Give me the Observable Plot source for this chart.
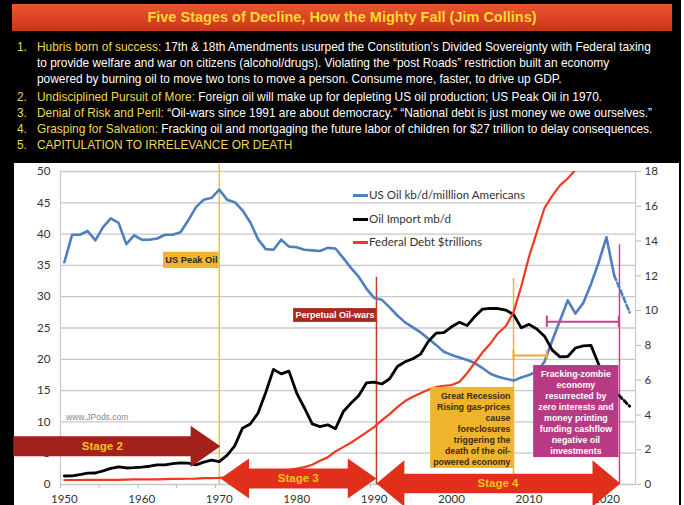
<!DOCTYPE html>
<html><head><meta charset="utf-8">
<script src="https://cdn.jsdelivr.net/npm/d3@7"></script>
<script src="https://cdn.jsdelivr.net/npm/@observablehq/plot@0.6"></script>
<style>
body{margin:0;width:684px;height:505px;overflow:hidden;background:#fff;position:relative;font-family:"Liberation Sans",Arial,sans-serif}
#panel{position:absolute;left:0;top:0;width:681px;height:505px;background:#000}
#banner{position:absolute;left:12px;top:4px;width:660px;height:27px;background:linear-gradient(#ea5531,#cc3418);color:#ffd92e;font-weight:bold;font-size:14.5px;text-align:center;line-height:27px}
.row{position:absolute;white-space:nowrap;font-size:11.9px;color:#fff;line-height:14px}
.yl{color:#efd757}
#chartbg{position:absolute;left:14px;top:163px;width:665px;height:342px;background:#fff}
#chart{position:absolute;left:0;top:163px}
.leg{position:absolute;font-family:Lato,sans-serif;font-size:11.6px;color:#333;white-space:nowrap;line-height:14px}
.leg i{position:absolute;left:-16px;top:6px;width:15px;height:3px}
</style></head>
<body>
<div id="panel"></div>
<div id="banner">Five Stages of Decline, How the Mighty Fall (Jim Collins)</div>
<div id="list"></div>
<div id="chartbg"></div>
<div id="chart"></div>
<div id="legend"></div>
<script>
// ---------- header text ----------
const listNums = ["1.", "2.", "3.", "4.", "5."];
const listHeads = ["Hubris born of success:", "Undisciplined Pursuit of More:", "Denial of Risk and Peril:", "Grasping for Salvation:", "CAPITULATION TO IRRELEVANCE OR DEATH"];
const listBodies = [
  [" 17th & 18th Amendments usurped the Constitution\u2019s Divided Sovereignty with Federal taxing",
   "to provide welfare and war on citizens (alcohol/drugs). Violating the \u201cpost Roads\u201d restriction built an economy",
   "powered by burning oil to move two tons to move a person. Consume more, faster, to drive up GDP."],
  [" Foreign oil will make up for depleting US oil production; US Peak Oil in 1970."],
  [" \u201cOil-wars since 1991 are about democracy.\u201d \u201cNational debt is just money we owe ourselves.\u201d"],
  [" Fracking oil and mortgaging the future labor of children for $27 trillion to delay consequences."],
  [""]
];
const rowTops = [[40, 55.5, 72], [90], [106], [122], [138]];
const list = document.getElementById("list");
listNums.forEach((n, i) => {
  listBodies[i].forEach((line, j) => {
    const r = document.createElement("div");
    r.className = "row";
    r.style.top = rowTops[i][j] + "px";
    if (j === 0) {
      r.style.left = "17px";
      r.innerHTML = `<span class="yl">${n}</span><span style="position:absolute;left:20px"><span class="yl">${listHeads[i]}</span>${line.replace(/&/g,"&amp;")}</span>`;
    } else {
      r.style.left = "37px";
      r.textContent = line;
    }
    list.appendChild(r);
  });
});

// ---------- data ----------
const years = [1950,1951,1952,1953,1954,1955,1956,1957,1958,1959,1960,1961,1962,1963,1964,1965,1966,1967,1968,1969,
  1970,1971,1972,1973,1974,1975,1976,1977,1978,1979,1980,1981,1982,1983,1984,1985,1986,1987,1988,1989,
  1990,1991,1992,1993,1994,1995,1996,1997,1998,1999,2000,2001,2002,2003,2004,2005,2006,2007,2008,2009,
  2010,2011,2012,2013,2014,2015,2016,2017,2018,2019,2020,2021];
// US oil kb/d per million Americans (left axis)
const usOil = [35.5,39.9,39.9,40.5,39.0,41.1,42.5,41.8,38.4,39.8,39.1,39.1,39.3,39.9,39.9,40.3,42.2,44.3,45.5,45.8,
  47.1,45.5,45.1,43.8,41.9,39.2,37.6,37.5,39.1,38.0,37.9,37.5,37.4,37.3,37.8,37.7,36.2,34.6,33.2,31.3,
  29.8,29.5,28.3,27.0,25.9,25.1,24.3,23.3,22.3,21.2,20.7,20.3,19.9,19.4,18.6,17.7,17.2,16.9,16.6,17.1,
  17.5,18.0,19.6,23.0,26.2,29.4,27.3,29.0,32.0,35.5,39.5,33.4];
// Oil import mb/d (right axis)
const oilImport = [0.49,0.50,0.57,0.65,0.66,0.78,0.93,1.02,0.95,0.97,1.00,1.05,1.13,1.13,1.20,1.24,1.23,1.13,1.29,1.40,
  1.32,1.68,2.22,3.24,3.48,4.10,5.29,6.62,6.36,6.52,5.26,4.40,3.49,3.33,3.43,3.20,4.18,4.67,5.10,5.84,
  5.89,5.78,6.08,6.79,7.06,7.23,7.50,8.23,8.70,8.73,9.07,9.33,9.14,9.66,10.09,10.13,10.12,10.03,9.78,9.01,
  9.21,8.94,8.53,7.73,7.34,7.36,7.85,7.97,8.00,6.90,5.90,5.40];
// Federal debt $ trillions (right axis), 1950-2016
const debt = [0.26,0.26,0.26,0.27,0.27,0.27,0.27,0.27,0.28,0.29,0.29,0.29,0.30,0.31,0.32,0.32,0.33,0.34,0.37,0.37,
  0.38,0.41,0.44,0.47,0.49,0.54,0.63,0.71,0.78,0.83,0.91,1.00,1.14,1.37,1.56,1.90,2.15,2.40,2.70,3.00,
  3.30,3.70,4.05,4.45,4.80,5.05,5.25,5.45,5.60,5.68,5.72,5.90,6.40,7.00,7.60,8.10,8.70,9.10,9.90,11.40,
  13.10,14.50,15.90,16.60,17.20,17.60,18.10];
// dashed projections
const projYears = [2021, 2023];
const usOilProj = [33.4, 27.5];
const importProj = [5.4, 4.5];

const leftTicks = [0,5,10,15,20,25,30,35,40,45,50];
const rightTicks = [0,2,4,6,8,10,12,14,16,18];
const xLabelTicks = [1950,1960,1970,1980,1990,2000,2010,2020];
const seriesNames = ["US Oil kb/d/milllion Americans", "Oil Import mb/d", "Federal Debt $trillions"];
const seriesColors = ["#4f7fbf", "#000000", "#f0391f"];

const peakLabel = ["US Peak Oil"];
const warsLabel = ["Perpetual Oil-wars"];
const recessionLabel = ["Great Recession\nRising gas-prices\ncause\nforeclosures\ntriggering the\ndeath of the oil-\npowered economy"];
const zombieLabel = ["Fracking-zombie\neconomy\nresurrected by\nzero interests and\nmoney printing\nfunding cashflow\nnegative oil\ninvestments"];
const stageLabels = ["Stage 2", "Stage 3", "Stage 4"];

const R = 50 / 18; // right-axis to left-axis factor
const blue = years.map((y, i) => ({year: y, v: usOil[i]}));
const black = years.map((y, i) => ({year: y, v: oilImport[i]}));
const red = debt.map((v, i) => ({year: years[i], v}));
const blueP = projYears.map((y, i) => ({year: y, v: usOilProj[i]}));
const blackP = projYears.map((y, i) => ({year: y, v: importProj[i]}));

// arrow polygon in data units
function arrow(x1, x2, yc, body, head, len, both) {
  const p = [];
  if (both) {
    p.push([x1, yc], [x1 + len, yc + head], [x1 + len, yc + body]);
  } else {
    p.push([x1, yc + body]);
  }
  p.push([x2 - len, yc + body], [x2 - len, yc + head], [x2, yc], [x2 - len, yc - head], [x2 - len, yc - body]);
  if (both) p.push([x1 + len, yc - body], [x1 + len, yc - head]);
  else p.push([x1, yc - body]);
  return p;
}
const a2 = arrow(1943.4, 1970.15, 6.1, 1.6, 3.3, 3.85, false);
const a3 = arrow(1970.15, 1990.3, 0.96, 1.6, 3.2, 3.7, true);
const a4 = arrow(1990.3, 2021.8, 0.16, 1.55, 3.7, 3.6, true);

const boundaryTicks = [1949.5,1954.5,1959.5,1964.5,1969.5,1974.5,1979.5,1984.5,1989.5,1994.5,1999.5,2004.5,2009.5,2014.5,2019.5];

const chart = Plot.plot({
  width: 684, height: 342,
  marginLeft: 60, marginRight: 49, marginTop: 8, marginBottom: 21,
  x: {domain: [1949.5, 2023.75]},
  y: {domain: [0, 50]},
  style: {fontFamily: "Lato, sans-serif", fontSize: "11.6px", color: "#333", background: "transparent", overflow: "visible"},
  marks: [
    Plot.gridY(leftTicks, {stroke: "#c8c8c8", strokeOpacity: 1, strokeWidth: 1.3}),
    Plot.ruleX([1949.5, 2023.75], {y1: 0, y2: 50, stroke: "#c8c8c8", strokeWidth: 1.2}),
    Plot.axisX(boundaryTicks, {tickSize: 4, tickFormat: () => "", stroke: "#bbb", label: null}),
    Plot.axisX(xLabelTicks, {tickSize: 0, tickPadding: 10, tickFormat: d => String(d), label: null, fill: "#333"}),
    Plot.axisY(leftTicks, {anchor: "left", tickSize: 0, tickPadding: 10, label: null, fill: "#333"}),
    Plot.axisY(rightTicks.map(v => v * R), {anchor: "right", tickSize: 5, tickPadding: 4, stroke: "#bbb",
      tickFormat: d => String(Math.round(d / R)), label: null, fill: "#333"}),

    // vertical annotation rules
    Plot.ruleX([1970], {y1: 0, y2: 51.3, stroke: "#f4c13e", strokeWidth: 1.5}),
    Plot.ruleX([1990.3], {y1: 0, y2: 33.1, stroke: "#c0392b", strokeWidth: 1.5}),
    Plot.ruleX([2008], {y1: 0, y2: 32.9, stroke: "#f2b33a", strokeWidth: 1.5}),
    Plot.ruleX([2021.68], {y1: 0, y2: 38.3, stroke: "#c8428c", strokeWidth: 1.5}),

    // series
    Plot.line(blue, {x: "year", y: "v", stroke: seriesColors[0], strokeWidth: 2.6}),
    Plot.line(blueP, {x: "year", y: "v", stroke: seriesColors[0], strokeWidth: 2.6, strokeDasharray: "5,3"}),
    Plot.line(black, {x: "year", y: d => d.v * R, stroke: seriesColors[1], strokeWidth: 2.8}),
    Plot.line(blackP, {x: "year", y: d => d.v * R, stroke: seriesColors[1], strokeWidth: 2.8, strokeDasharray: "4,3"}),
    Plot.line(red, {x: "year", y: d => d.v * R, stroke: seriesColors[2], strokeWidth: 2.2, clip: true}),

    // range markers
    Plot.ruleY([20.6], {x1: 2008, x2: 2012.3, stroke: "#f0a83a", strokeWidth: 2}),
    Plot.ruleX([2008, 2012.3], {y1: 19.8, y2: 21.4, stroke: "#f0a83a", strokeWidth: 2}),
    Plot.ruleY([26.0], {x1: 2012.3, x2: 2021.6, stroke: "#c8428c", strokeWidth: 2}),
    Plot.ruleX([2012.3, 2021.6], {y1: 25.1, y2: 26.9, stroke: "#c8428c", strokeWidth: 2}),

    // label boxes
    Plot.rect([0], {x1: 1962.8, x2: 1970, y1: 34.5, y2: 37.1, fill: "#f2b431"}),
    Plot.text(peakLabel, {x: 1966.4, y: 35.8, text: d => d, fill: "#2a2a2a", fontWeight: "bold", fontSize: 9.3, fontFamily: "Liberation Sans, Arial"}),
    Plot.rect([0], {x1: 1979.6, x2: 1990.3, y1: 25.9, y2: 28.1, fill: "#a8281f"}),
    Plot.text(warsLabel, {x: 1984.95, y: 27.0, text: d => d, fill: "#fff", fontWeight: "bold", fontSize: 9, fontFamily: "Liberation Sans, Arial"}),
    Plot.rect([0], {x1: 1997.3, x2: 2008, y1: 2.56, y2: 15.5, fill: "#f0b42c"}),
    Plot.text(recessionLabel, {x: 2007.6, y: 9.0, text: d => d, textAnchor: "end", lineHeight: 1.25, fill: "#3a2a10", fontWeight: "bold", fontSize: 8.8, fontFamily: "Liberation Sans, Arial"}),
    Plot.rect([0], {x1: 2010.6, x2: 2021.6, y1: 4.3, y2: 19.0, fill: "#b83a85"}),
    Plot.text(zombieLabel, {x: 2016.05, y: 11.66, text: d => d, lineHeight: 1.25, fill: "#fff", fontWeight: "bold", fontSize: 8.8, fontFamily: "Liberation Sans, Arial"}),

    // stage arrows
    Plot.line(a2, {x: d => d[0], y: d => d[1], fill: "#a3201b", stroke: "none"}),
    Plot.line(a3, {x: d => d[0], y: d => d[1], fill: "#e0301c", stroke: "none"}),
    Plot.line(a4, {x: d => d[0], y: d => d[1], fill: "#e0301c", stroke: "none"}),
    Plot.text(stageLabels, {x: [1954.9, 1980.2, 2006.0], y: [6.1, 0.96, 0.16], text: d => d, fill: "#f6c21c", fontWeight: "bold", fontSize: 11.5, fontFamily: "Liberation Sans, Arial"}),

    Plot.text(["www.JPods.com"], {x: 1950.2, y: 10.8, text: d => d, textAnchor: "start", fill: "#888", fontSize: 8.5, fontFamily: "Liberation Sans, Arial"})
  ]
});
document.getElementById("chart").appendChild(chart);

// legend
const legTops = [188, 212, 235];
const legend = document.getElementById("legend");
seriesNames.forEach((n, i) => {
  const d = document.createElement("div");
  d.className = "leg";
  d.style.left = "369px";
  d.style.top = legTops[i] + "px";
  d.innerHTML = `<i style="background:${seriesColors[i]}"></i>`;
  d.appendChild(document.createTextNode(n));
  legend.appendChild(d);
});
</script>
</body></html>
